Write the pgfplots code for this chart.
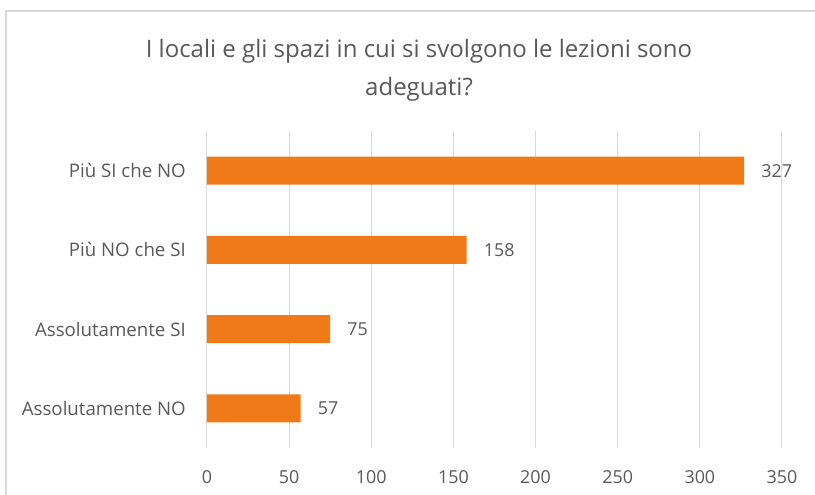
\documentclass[border=0pt]{standalone}
\usepackage{pgfplots}
\pgfplotsset{compat=1.18}
\usepackage{fontspec}
\setmainfont{Open Sans}
\definecolor{barorange}{HTML}{F07A18}
\definecolor{txtgray}{HTML}{595959}
\definecolor{gridgray}{HTML}{D9D9D9}
\begin{document}
\begin{tikzpicture}
\clip (0,0) rectangle (611.25pt,-371.25pt);
\draw[gridgray, line width=1.1pt] (4.5pt,-380pt) -- (4.5pt,-8.25pt) -- (630pt,-8.25pt);
\node[anchor=base, text=txtgray, font=\fontsize{18}{21}\selectfont, inner sep=0pt] at (314.25pt,-43.25pt) {I locali e gli spazi in cui si svolgono le lezioni sono};
\node[anchor=base, text=txtgray, font=\fontsize{18}{21}\selectfont, inner sep=0pt] at (314.25pt,-71.5pt) {adeguati?};
\begin{axis}[
  at={(155.25pt,-336pt)}, anchor=south west,
  scale only axis, width=431.25pt, height=237.75pt,
  xbar, bar width=21pt,
  xmin=0, xmax=350, ymin=-0.5, ymax=3.5,
  xtick={0,50,...,350},
  ytick={0,1,2,3},
  yticklabels={Assolutamente NO, Assolutamente SI, Più NO che SI, Più SI che NO},
  axis line style={draw=none},
  xmajorgrids, grid style={gridgray, line width=0.75pt},
  major tick length=0pt,
  tick label style={text=txtgray, font=\fontsize{13.4}{16}\selectfont, inner sep=0pt},
  /pgf/number format/assume math mode=true,
  xticklabel style={anchor=base, yshift=-26.25pt},
  yticklabel style={anchor=east, xshift=-15.75pt, font=\fontsize{14}{16}\selectfont},
  nodes near coords,
  nodes near coords style={anchor=west, inner sep=0pt, xshift=12.75pt, text=txtgray, font=\fontsize{13.4}{16}\selectfont},
  every node near coord/.append style={/pgf/number format/assume math mode=true},
  clip=false,
]
\addplot[fill=barorange, draw=none] coordinates {(57,0) (75,1) (158,2) (327,3)};
\end{axis}
\end{tikzpicture}
\end{document}
